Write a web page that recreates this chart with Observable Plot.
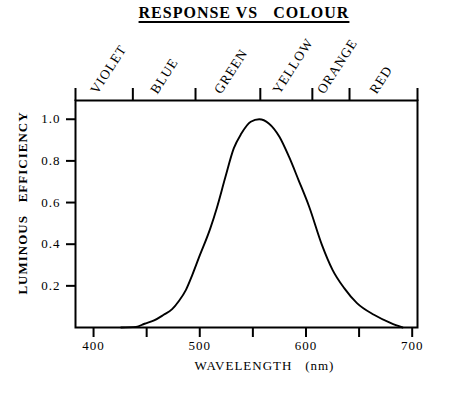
<!DOCTYPE html>
<html>
<head>
<meta charset="utf-8">
<script src="https://cdn.jsdelivr.net/npm/d3@7"></script>
<script src="https://cdn.jsdelivr.net/npm/@observablehq/plot@0.6"></script>
<style>
  body { margin: 0; background: #fff; }
  #title {
    width: 452px; height: 30px; box-sizing: border-box; padding-top: 3px; padding-left: 36px;
    font-family: "Liberation Serif", "DejaVu Serif", serif; font-weight: bold;
    font-size: 16px; line-height: 20px; letter-spacing: 1px; text-align: center;
    text-decoration: underline; text-decoration-thickness: 2px; text-underline-offset: 3px;
    white-space: pre; color: #000;
  }
  svg text { letter-spacing: 1px; }
</style>
</head>
<body>
<div id="title">RESPONSE VS   COLOUR</div>
<div id="chart"></div>
<script>
// Data
const wavelengths = [426, 440, 448, 457, 466, 474, 480, 487, 493, 499, 510, 516, 524, 532, 539, 548, 556, 565, 575, 584, 593, 603, 615, 625, 636, 648, 664, 680, 691];
const efficiency  = [0, 0.003, 0.018, 0.034, 0.061, 0.088, 0.125, 0.181, 0.253, 0.333, 0.477, 0.573, 0.72, 0.86, 0.93, 0.988, 1.0, 0.98, 0.916, 0.82, 0.708, 0.58, 0.397, 0.277, 0.189, 0.117, 0.061, 0.021, 0];
const colourNames = ["VIOLET", "BLUE", "GREEN", "YELLOW", "ORANGE", "RED"];
const colourBounds = [383, 437, 496, 557, 606, 641, 705];
const xTicks = [400, 450, 500, 550, 600, 650, 700];
const yTicks = [0.2, 0.4, 0.6, 0.8, 1.0];

const curve = wavelengths.map((w, i) => ({w, e: efficiency[i]}));
const colourLabels = colourNames.map((name, i) => ({name, mid: (colourBounds[i] + colourBounds[i + 1]) / 2}));

const chart = Plot.plot({
  width: 452,
  height: 363,
  marginTop: 70,
  marginBottom: 66,
  marginLeft: 75,
  marginRight: 35,
  style: {fontFamily: "Liberation Serif, DejaVu Serif, serif", fontSize: "13px", color: "#000", background: "#fff"},
  x: {domain: [colourBounds[0], colourBounds[colourBounds.length - 1]]},
  y: {domain: [0, 1.09]},
  marks: [
    Plot.frame({stroke: "#000", strokeWidth: 2}),
    Plot.axisX({anchor: "bottom", ticks: xTicks, tickSize: 10, tickPadding: 3, strokeWidth: 2,
      tickFormat: d => d % 100 === 0 ? String(d) : "", label: null}),
    Plot.axisX({anchor: "top", ticks: colourBounds, tickSize: 13, strokeWidth: 2, tickFormat: () => "", label: null}),
    Plot.axisY({ticks: yTicks, tickSize: 9, tickPadding: 6, strokeWidth: 2, tickFormat: ".1f", label: null}),
    Plot.text(colourLabels, {x: "mid", text: "name", frameAnchor: "top", textAnchor: "start",
      rotate: -57, dx: -15, dy: -11, fontSize: 13.5}),
    Plot.text(["WAVELENGTH\u00a0\u00a0\u00a0(nm)"], {frameAnchor: "bottom", dx: 18, dy: 42, fontSize: 13}),
    Plot.text(["LUMINOUS\u00a0\u00a0\u00a0EFFICIENCY"], {frameAnchor: "left", textAnchor: "middle", rotate: -90,
      dx: -53, dy: -11, fontSize: 13, fontWeight: "bold"}),
    Plot.line(curve, {x: "w", y: "e", curve: "monotone-x", stroke: "#000", strokeWidth: 1.9})
  ]
});
document.getElementById("chart").appendChild(chart);
</script>
</body>
</html>
